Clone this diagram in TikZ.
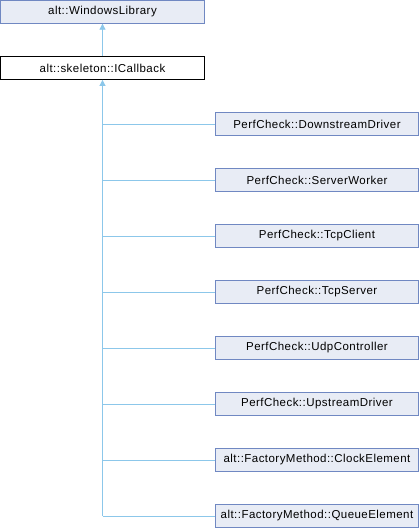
\documentclass[tikz,border=0pt]{standalone}
\usepackage{fontspec}
\setmainfont{Liberation Sans}[LetterSpace=4]
\usetikzlibrary{arrows.meta}
\definecolor{boxfill}{HTML}{E8ECF5}
\definecolor{boxdraw}{HTML}{7088C2}
\definecolor{edge}{HTML}{8CC7EA}
\tikzset{
  cls/.style={draw=boxdraw, fill=boxfill, line width=0.8pt, minimum height=23pt, inner sep=0pt, font=\fontsize{11.5}{13}\selectfont, text=black},
  topcls/.style={draw=black, fill=white, line width=0.8pt, minimum height=23pt, inner sep=0pt, font=\fontsize{11.5}{13}\selectfont},
  conn/.style={draw=edge, line width=0.8pt},
  inh/.style={conn, -{Triangle[length=6pt,width=6pt]}}
}
\begin{document}
\begin{tikzpicture}[x=1pt,y=-1pt]
\useasboundingbox (0,0) rectangle (420,528);
\node[cls, minimum width=204pt] (wl) at (102.5,11.75) {alt::WindowsLibrary};
\node[topcls, minimum width=204pt] (cb) at (102.5,68) {alt::skeleton::ICallback};
\draw[inh] (cb.north) -- (wl.south);
\foreach \n/\t [count=\i from 0] in {c1/PerfCheck::DownstreamDriver, c2/PerfCheck::ServerWorker, c3/PerfCheck::TcpClient, c4/PerfCheck::TcpServer, c5/PerfCheck::UdpController, c6/PerfCheck::UpstreamDriver, c7/alt::FactoryMethod::ClockElement, c8/alt::FactoryMethod::QueueElement}{
  \node[cls, minimum width=203pt] (\n) at (317,124+56*\i) {\t};
  \coordinate (j\n) at (102.5,124+56*\i);
  \draw[conn] (j\n) -- (\n.west);
}
\draw[inh] (jc8) -- (cb.south);
\end{tikzpicture}
\end{document}
